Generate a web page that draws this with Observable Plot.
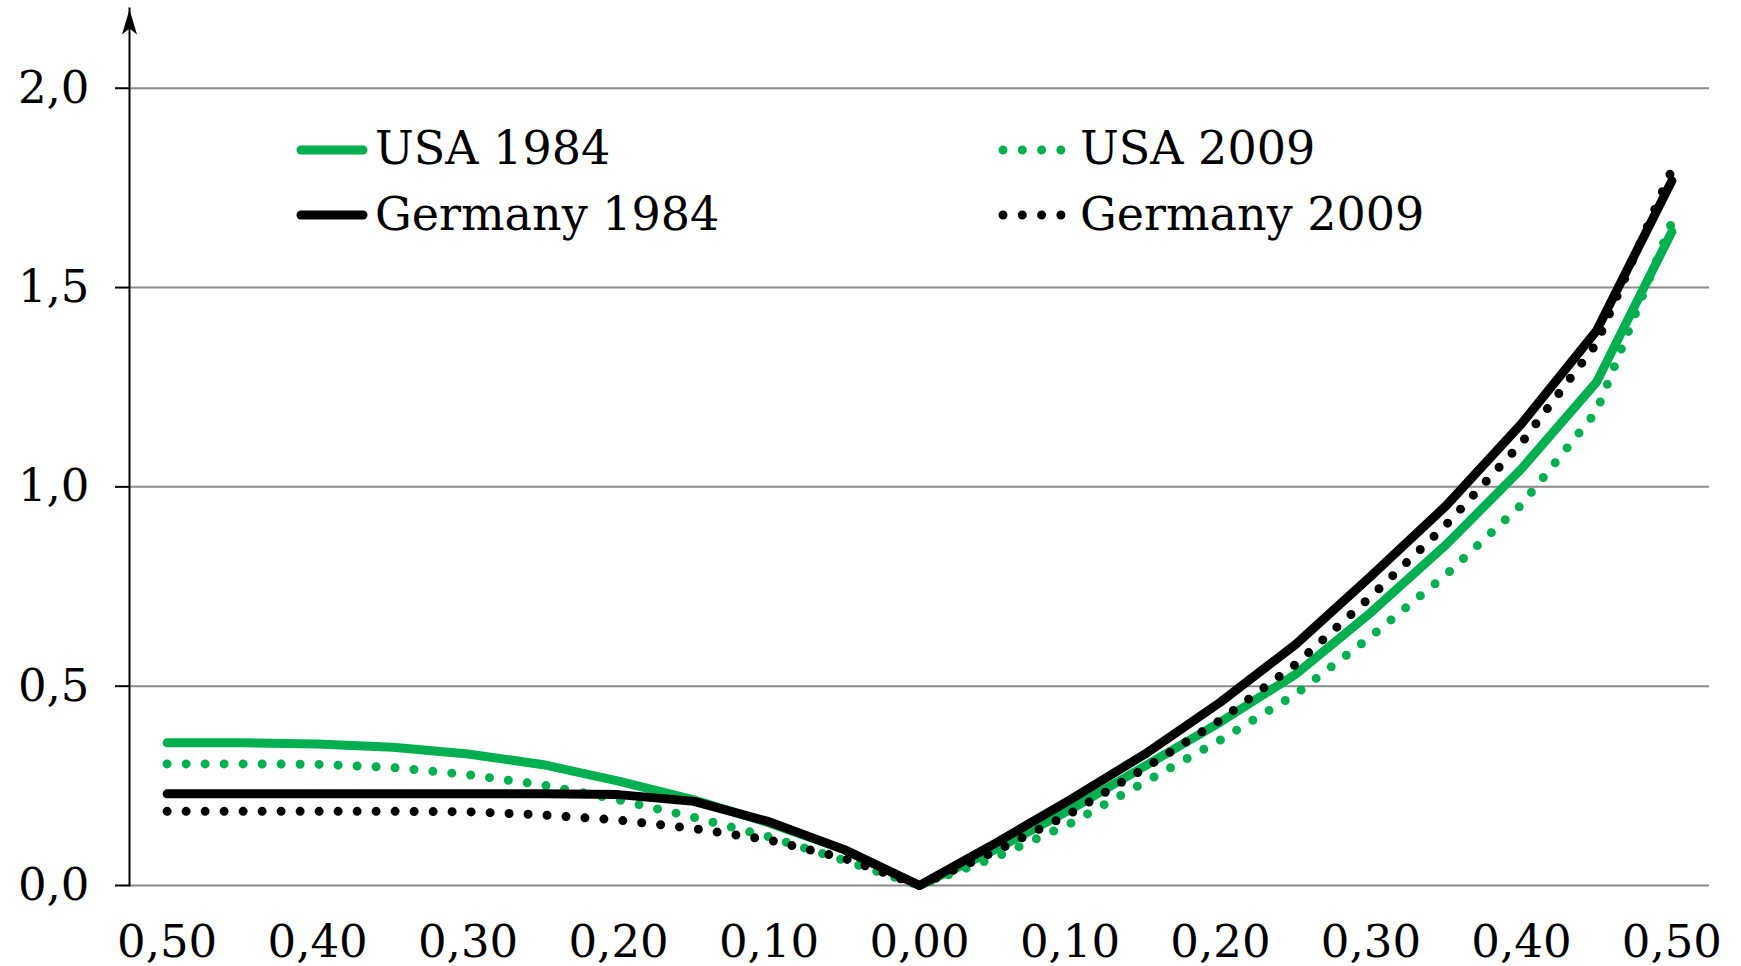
<!DOCTYPE html>
<html>
<head>
<meta charset="utf-8">
<script src="https://cdn.jsdelivr.net/npm/d3@7"></script>
<script src="https://cdn.jsdelivr.net/npm/@observablehq/plot@0.6"></script>
<style>
  html, body { margin: 0; padding: 0; background: #fff; }
  #wrap { position: relative; width: 1741px; height: 966px; }
  #legend { position: absolute; left: 0; top: 0; pointer-events: none; }
  #legend text { font-family: "DejaVu Serif", serif; font-size: 46px; fill: #000; }
</style>
</head>
<body>
<div id="wrap"><div id="chart"></div></div>
<script>
// Data
const xValues = [-0.50,-0.45,-0.40,-0.35,-0.30,-0.25,-0.20,-0.15,-0.10,-0.05,0.00,
                  0.05, 0.10, 0.15, 0.20, 0.25, 0.30, 0.35, 0.40, 0.45, 0.50];
const usa1984 = [0.358,0.358,0.355,0.347,0.330,0.303,0.262,0.215,0.157,0.090,0,
                 0.090,0.190,0.300,0.410,0.530,0.685,0.855,1.045,1.263,1.640];
const usa2009 = [0.305,0.305,0.304,0.296,0.278,0.252,0.215,0.171,0.122,0.063,0,
                 0.070,0.155,0.260,0.365,0.480,0.625,0.780,0.955,1.190,1.664];
const germany1984 = [0.230,0.230,0.230,0.230,0.230,0.230,0.228,0.211,0.160,0.090,0,
                     0.105,0.215,0.330,0.460,0.605,0.776,0.953,1.158,1.392,1.768];
const germany2009 = [0.186,0.186,0.186,0.186,0.185,0.177,0.164,0.143,0.114,0.068,0,
                     0.085,0.180,0.295,0.415,0.555,0.725,0.905,1.110,1.360,1.795];
const seriesNames = ["USA 1984", "USA 2009", "Germany 1984", "Germany 2009"];
const xTicks = [-0.5,-0.4,-0.3,-0.2,-0.1,0,0.1,0.2,0.3,0.4,0.5];
const yTicks = [0, 0.5, 1.0, 1.5, 2.0];

const green = "#00b050";
const seriesStyle = {
  "USA 1984": {stroke: green, dash: null},
  "USA 2009": {stroke: green, dash: "0 19"},
  "Germany 1984": {stroke: "#000", dash: null},
  "Germany 2009": {stroke: "#000", dash: "0 19"}
};
const seriesValues = {"USA 1984": usa1984, "USA 2009": usa2009, "Germany 1984": germany1984, "Germany 2009": germany2009};

const rows = (name) => xValues.map((x, i) => ({x, y: seriesValues[name][i], series: name}));

const fmtX = d => d3.format(".2f")(Math.abs(d)).replace(".", ",");
const fmtY = d => d3.format(".1f")(d).replace(".", ",");

// stealth-like arrowhead pointing up, tip at origin
const arrowHead = {
  draw(ctx) {
    ctx.moveTo(0, 1);
    ctx.lineTo(-7.5, 26);
    ctx.lineTo(0, 20);
    ctx.lineTo(7.5, 26);
    ctx.closePath();
  }
};

const lineMarks = seriesNames.map(name => Plot.line(rows(name), {
  x: "x", y: "y",
  stroke: seriesStyle[name].stroke,
  strokeWidth: 9,
  strokeLinecap: "round",
  strokeLinejoin: "round",
  strokeDasharray: seriesStyle[name].dash || undefined
}));

const chart = Plot.plot({
  width: 1741,
  height: 966,
  marginLeft: 129,
  marginRight: 32,
  marginTop: 8,
  marginBottom: 81,
  style: {fontFamily: "DejaVu Serif", fontSize: "45px", background: "#fff", color: "#000", overflow: "visible"},
  x: {domain: [-0.525, 0.525], label: null},
  y: {domain: [0, 2.2], label: null},
  marks: [
    Plot.gridY(yTicks, {stroke: "#8a8a8a", strokeOpacity: 1, strokeWidth: 2}),
    Plot.axisY(yTicks, {tickSize: 14, tickPadding: 26, tickFormat: fmtY, strokeWidth: 2, label: null, fontSize: 45}),
    Plot.axisX(xTicks, {tickSize: 0, tickPadding: 40, tickFormat: fmtX, label: null, fontSize: 45}),
    Plot.frame({anchor: "left", stroke: "#000", strokeWidth: 2}),
    Plot.dot([0], {frameAnchor: "top-left", symbol: arrowHead, fill: "#000", stroke: "none", r: 5}),
    ...lineMarks
  ]
});
document.getElementById("chart").appendChild(chart);

// Legend overlay (inside the plot area)
const ns = "http://www.w3.org/2000/svg";
const leg = document.createElementNS(ns, "svg");
leg.setAttribute("id", "legend");
leg.setAttribute("width", 1741);
leg.setAttribute("height", 966);
const legendItems = [
  {name: "USA 1984", sx: 301, ex: 363, tx: 375, ly: 150, ty: 164},
  {name: "USA 2009", sx: 1003, ex: 1061, tx: 1080, ly: 150, ty: 164},
  {name: "Germany 1984", sx: 301, ex: 363, tx: 375, ly: 215, ty: 230},
  {name: "Germany 2009", sx: 1003, ex: 1061, tx: 1080, ly: 215, ty: 230}
];
for (const it of legendItems) {
  const st = seriesStyle[it.name];
  const l = document.createElementNS(ns, "line");
  l.setAttribute("x1", it.sx); l.setAttribute("x2", it.ex);
  l.setAttribute("y1", it.ly); l.setAttribute("y2", it.ly);
  l.setAttribute("stroke", st.stroke);
  l.setAttribute("stroke-width", 9);
  l.setAttribute("stroke-linecap", "round");
  if (st.dash) l.setAttribute("stroke-dasharray", "0 19.3");
  leg.appendChild(l);
  const t = document.createElementNS(ns, "text");
  t.setAttribute("x", it.tx); t.setAttribute("y", it.ty);
  t.textContent = it.name;
  leg.appendChild(t);
}
document.getElementById("wrap").appendChild(leg);
</script>
</body>
</html>
